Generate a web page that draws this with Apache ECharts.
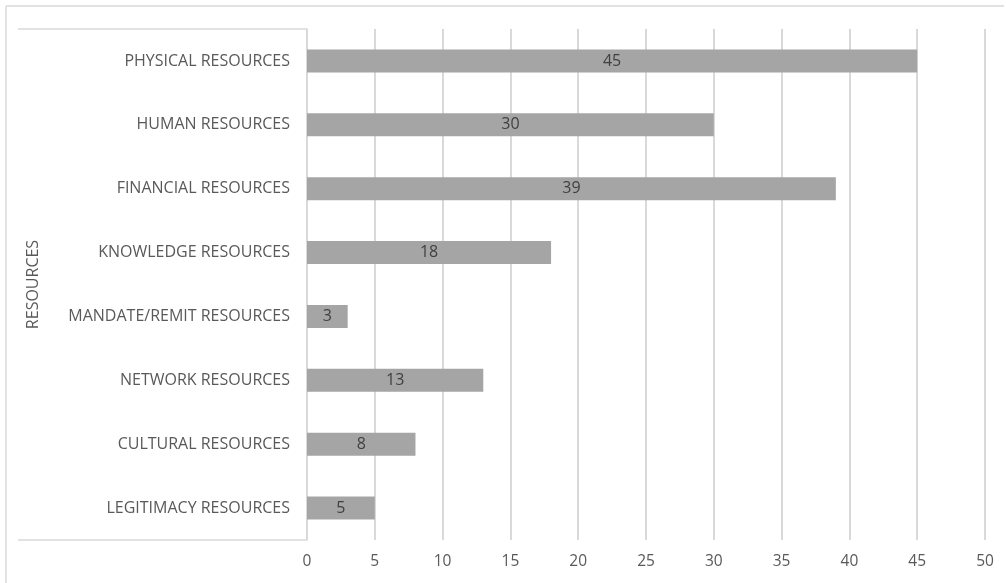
<!DOCTYPE html>
<html><head><meta charset="utf-8">
<script src="https://cdn.jsdelivr.net/npm/echarts@6/dist/echarts.min.js"></script>
<style>html,body{margin:0;padding:0;background:#fff}#c{width:1006px;height:583px}</style>
</head><body><div id="c"></div>
<script>
const categories = ["PHYSICAL RESOURCES","HUMAN RESOURCES","FINANCIAL RESOURCES","KNOWLEDGE RESOURCES","MANDATE/REMIT RESOURCES","NETWORK RESOURCES","CULTURAL RESOURCES","LEGITIMACY RESOURCES"];
const values = [45,30,39,18,3,13,8,5];
const axisName = "RESOURCES";
const xMin = 0, xMax = 50, xStep = 5;

const font = "'Open Sans', 'Liberation Sans', sans-serif";
const chart = echarts.init(document.getElementById('c'));
chart.setOption({
  backgroundColor: '#fff',
  animation: false,
  grid: {left: 307, right: 21, top: 29, bottom: 43},
  xAxis: {
    type: 'value', min: xMin, max: xMax, interval: xStep,
    axisLine: {show: false}, axisTick: {show: false},
    axisLabel: {color: '#595959', fontSize: 15.5, fontFamily: font, margin: 14},
    splitLine: {show: true, lineStyle: {color: '#d9d9d9', width: 2}}
  },
  yAxis: {
    type: 'category', data: categories.slice().reverse(),
    name: axisName, nameLocation: 'middle', nameGap: 266, nameRotate: 90,
    nameTextStyle: {color: '#595959', fontSize: 16, fontFamily: font},
    axisLine: {show: true, lineStyle: {color: '#d9d9d9', width: 1.5}},
    axisTick: {show: false},
    axisLabel: {color: '#595959', fontSize: 16, fontFamily: font, margin: 17, padding: [3, 0, 0, 0]}
  },
  series: [{
    type: 'bar', data: values.slice().reverse(), barWidth: 23,
    itemStyle: {color: '#a5a5a5'},
    label: {show: true, position: 'inside', color: '#404040', fontSize: 16, fontFamily: font, padding: [2, 0, 0, 0]}
  }],
  graphic: [
    {type: 'line', shape: {x1: 6, y1: 6, x2: 1004, y2: 6}, style: {stroke: '#d9d9d9', lineWidth: 1.5}},
    {type: 'line', shape: {x1: 6, y1: 6, x2: 6, y2: 583}, style: {stroke: '#d9d9d9', lineWidth: 1.5}},
    {type: 'line', shape: {x1: 18, y1: 29, x2: 307, y2: 29}, style: {stroke: '#d9d9d9', lineWidth: 1.5}},
    {type: 'line', shape: {x1: 18, y1: 540, x2: 307, y2: 540}, style: {stroke: '#d9d9d9', lineWidth: 1.5}}
  ]
});
</script></body></html>
